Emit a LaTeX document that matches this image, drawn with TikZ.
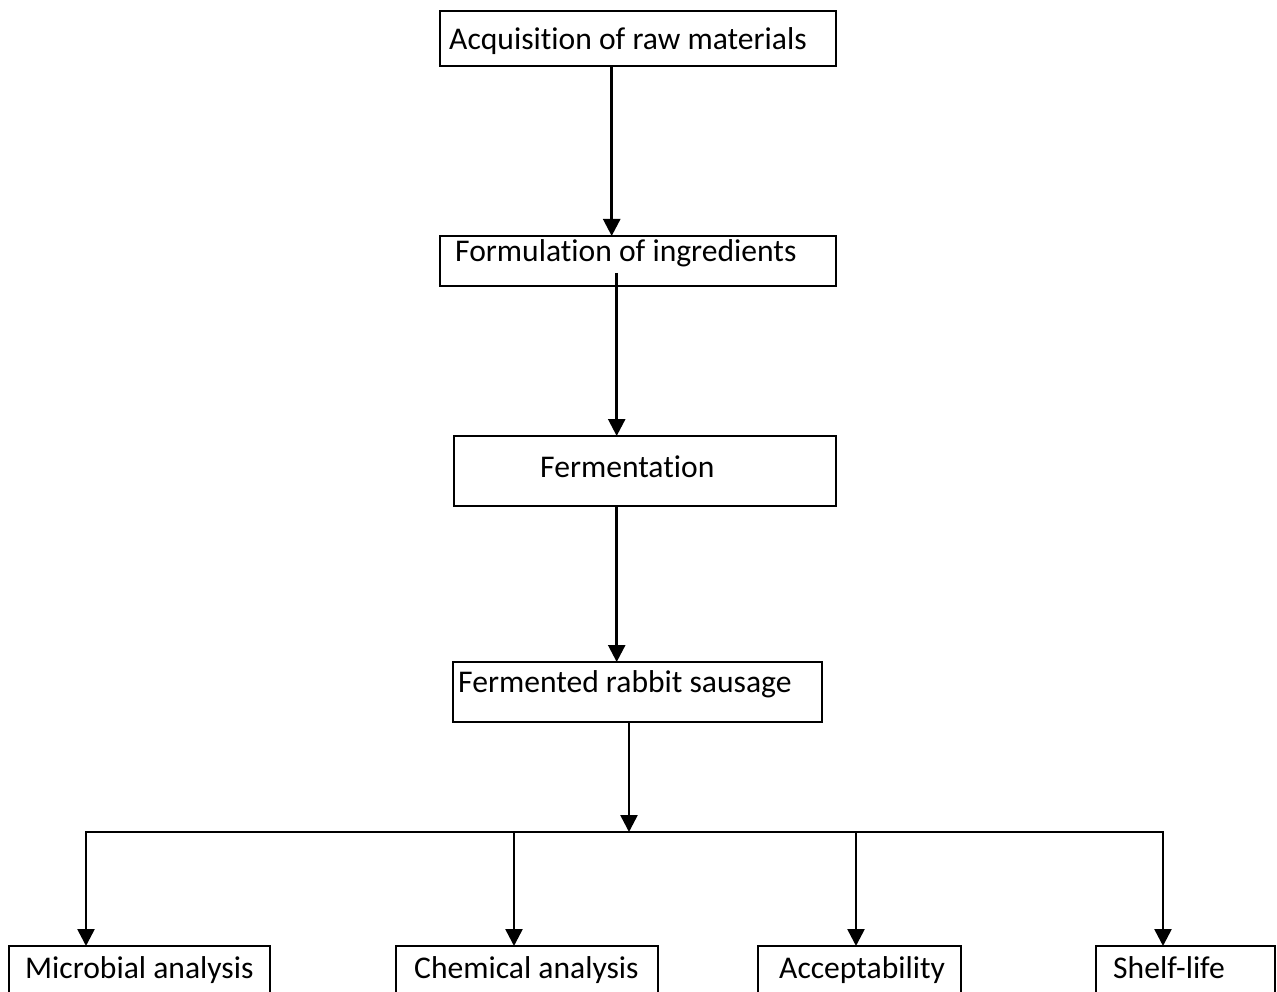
\documentclass[tikz,border=0pt]{standalone}
\usepackage{fontspec}
\setmainfont{Carlito}[Ligatures={NoCommon}]
\usetikzlibrary{arrows.meta}
\begin{document}
\begin{tikzpicture}[x=1pt,y=-1pt,
  box/.style={draw=black,line width=1.8pt,inner sep=0pt,outer sep=0pt,anchor=north west},
  lbl/.style={anchor=base west,inner sep=0pt,font=\fontsize{31.6}{38}\selectfont},
  arr/.style={line width=2.6pt,-{Triangle[width=17pt,length=17pt]}},
  ln/.style={line width=2.6pt}]
\useasboundingbox (0,0) rectangle (1277,992);
\clip (0,0) rectangle (1277,992);
\fill[white] (0,0) rectangle (1277,992);
% main boxes
\node[box,minimum width=396pt,minimum height=55pt] (b1) at (440,11) {};
\node[box,minimum width=396pt,minimum height=50pt] (b2) at (440,236) {};
\node[box,minimum width=382pt,minimum height=70pt] (b3) at (454,436) {};
\node[box,minimum width=369pt,minimum height=60pt] (b4) at (453,662) {};
% bottom boxes
\node[box,minimum width=261pt,minimum height=60pt] (m) at (9,946) {};
\node[box,minimum width=262pt,minimum height=60pt] (c) at (396,946) {};
\node[box,minimum width=203pt,minimum height=60pt] (a) at (758,946) {};
\node[box,minimum width=179pt,minimum height=60pt] (s) at (1096,946) {};
% texts
\node[lbl] (t1) at (449,50) {Acquisition of raw materials};
\node[lbl] (t2) at (455,262) {Formulation of ingredients};
\node[lbl] (t3) at (540,477) {Fermentation};
\node[lbl] (t4) at (458,692) {Fermented rabbit sausage};
\node[lbl] (tm) at (25,978) {Microbial analysis};
\node[lbl] (tc) at (414,978) {Chemical analysis};
\node[lbl] (ta) at (779,978) {Acceptability};
\node[lbl] (ts) at (1113,978) {Shelf-life};
% connectors
\coordinate (c1) at (611.7,66);
\draw[arr] (c1) -- (c1 |- b2.north);
\coordinate (c2) at (616.7,273);
\draw[arr] (c2) -- (c2 |- b3.north);
\coordinate (c3) at (616.7,506);
\draw[arr] (c3) -- (c3 |- b4.north);
\coordinate (c4) at (629,722);
\coordinate (h) at (629,832);
\draw[arr] (c4) -- (h);
\coordinate (hl) at (86,832);
\coordinate (hc) at (514,832);
\coordinate (ha) at (856,832);
\coordinate (hr) at (1163,832);
\draw[ln,line cap=rect] (hl) -- (hr);
\draw[arr] (hl) -- (hl |- m.north);
\draw[arr] (hc) -- (hc |- c.north);
\draw[arr] (ha) -- (ha |- a.north);
\draw[arr] (hr) -- (hr |- s.north);
\end{tikzpicture}
\end{document}
